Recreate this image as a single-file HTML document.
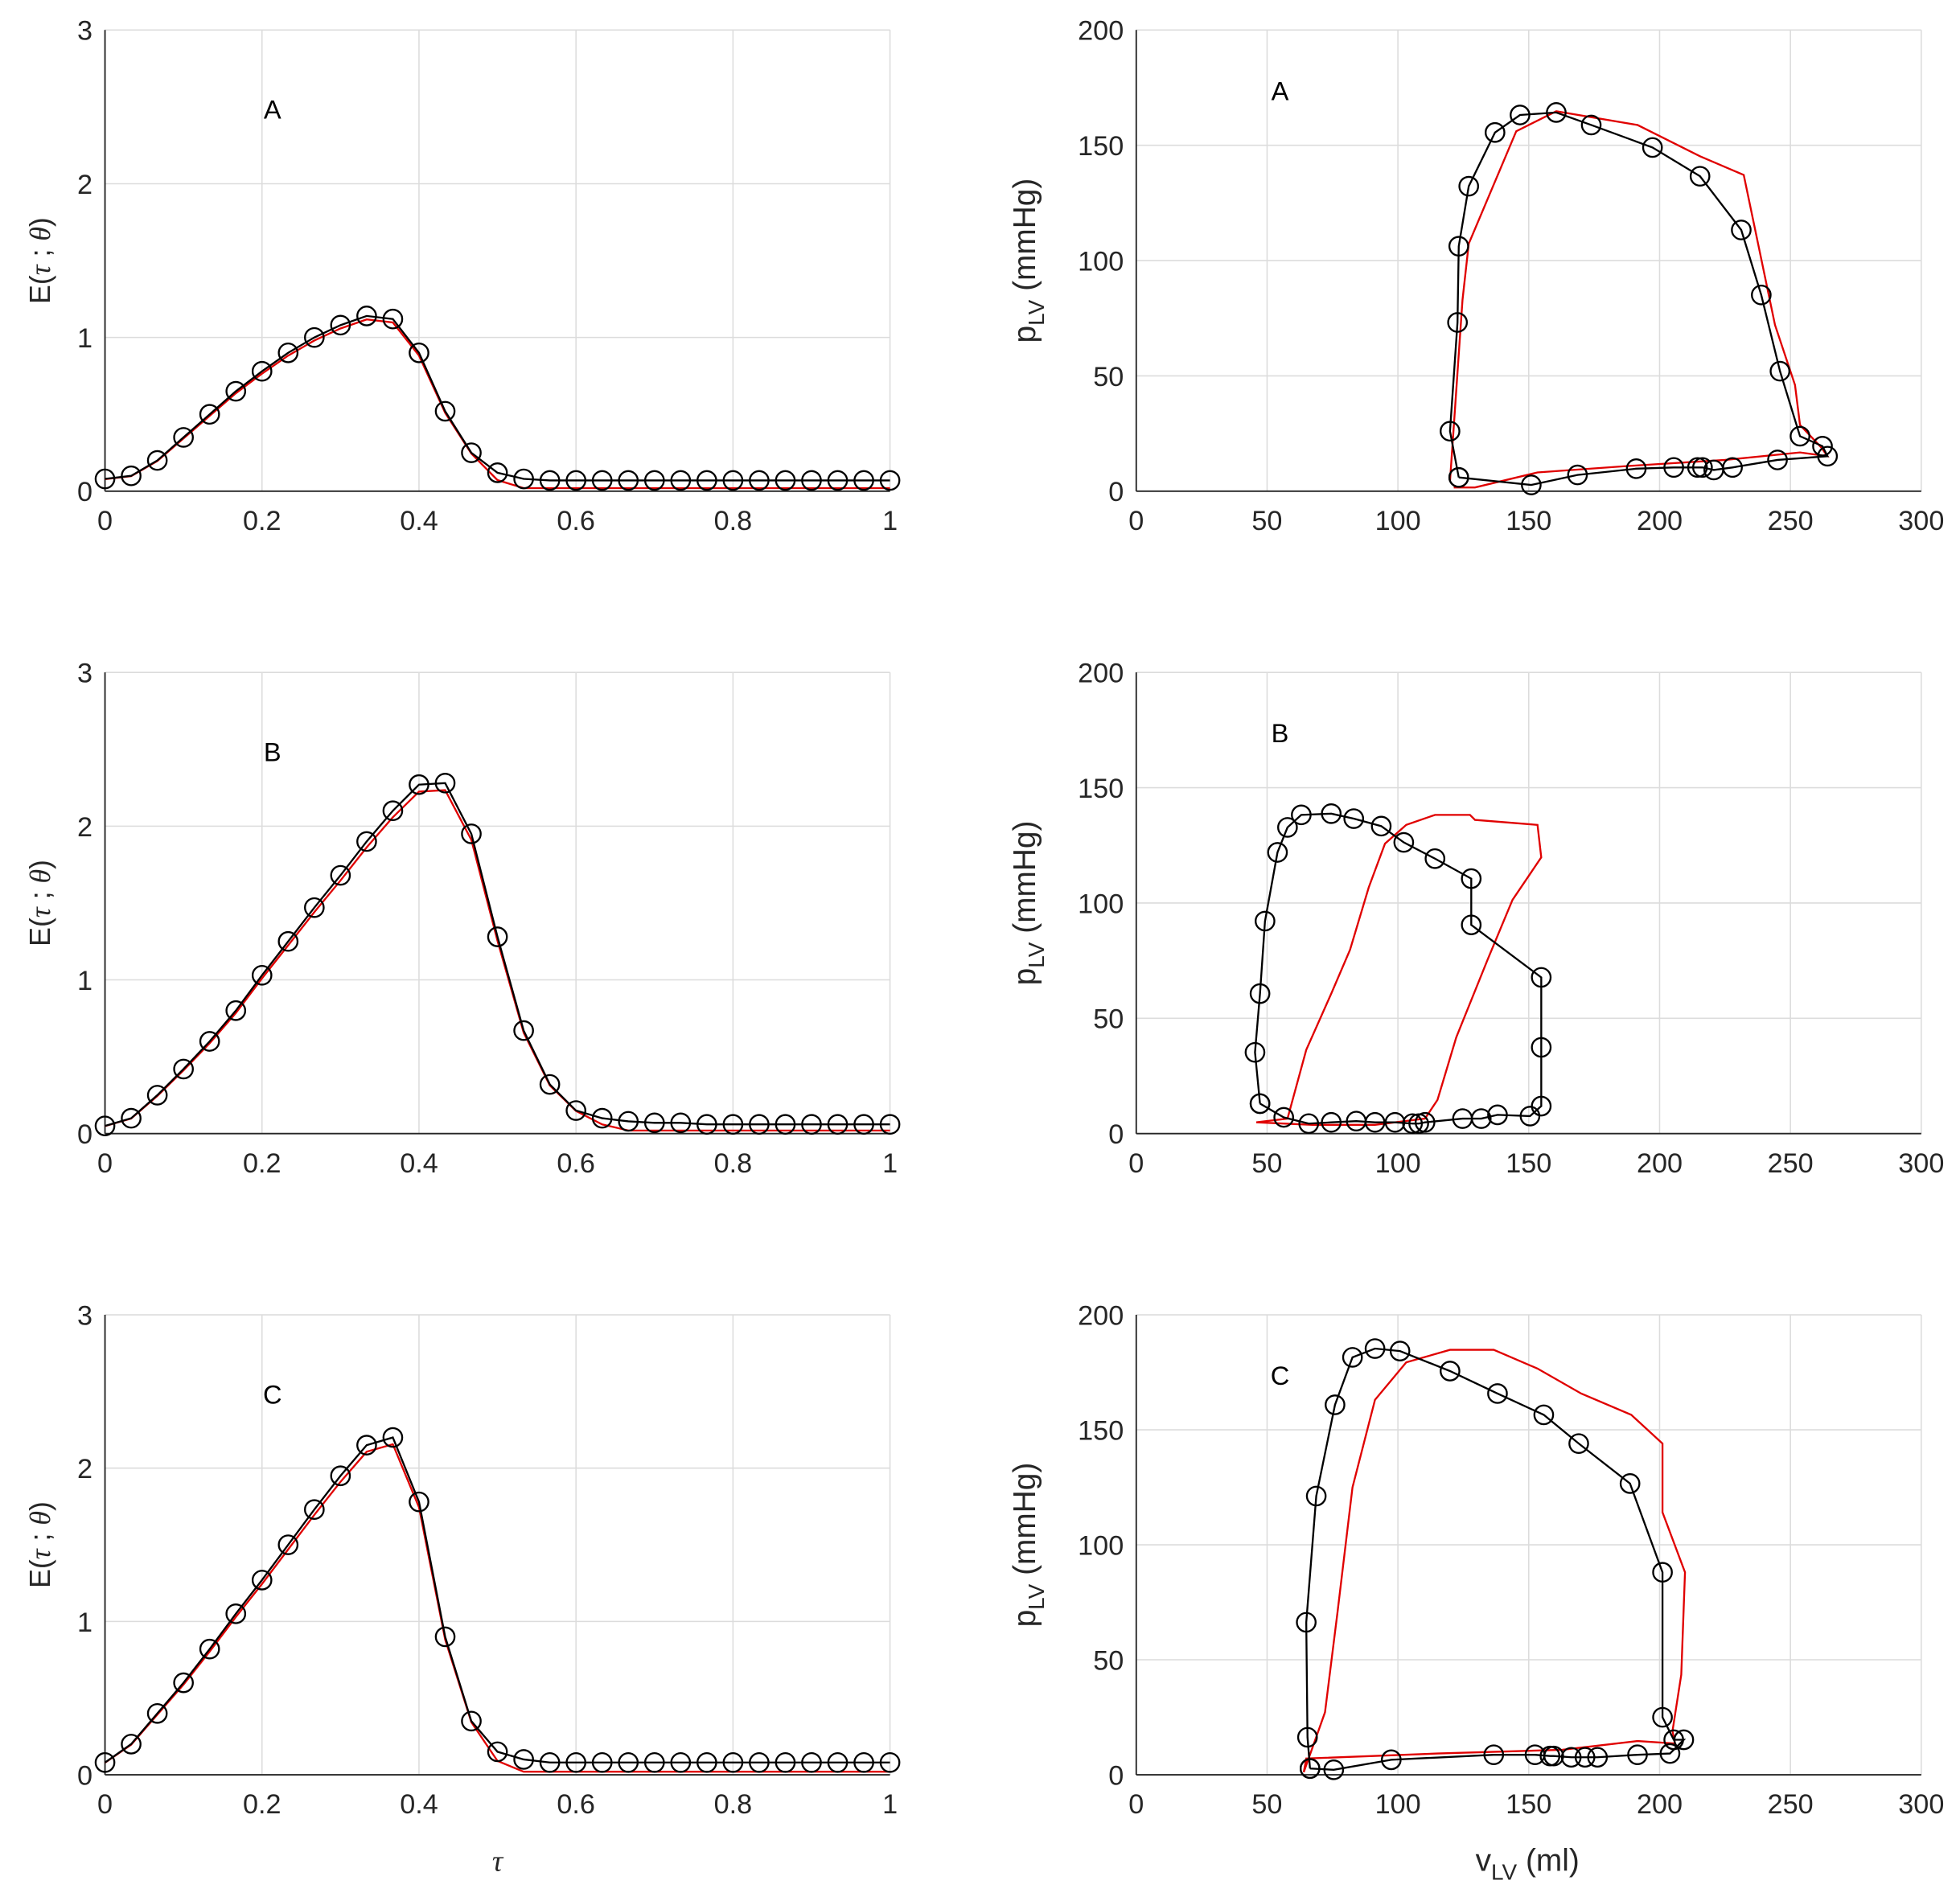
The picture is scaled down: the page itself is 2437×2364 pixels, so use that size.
<!DOCTYPE html>
<html><head><meta charset="utf-8"><style>html,body{margin:0;padding:0;background:#fff}svg{display:block}</style></head>
<body>
<svg id="s" xmlns="http://www.w3.org/2000/svg" width="2437" height="2364" viewBox="0 0 1568 1521" preserveAspectRatio="none" font-family="Liberation Sans, DejaVu Sans, sans-serif"></svg>
<script>
const S=document.getElementById('s');let h='';
const L={x0:84,x1:712},R={x0:909,x1:1537};
const rows=[{t:24,b:393},{t:538,b:907},{t:1052,b:1420}];
function axes(x0,x1,t,b,xt,yt){
 xt.forEach((v,i)=>{const x=x0+(x1-x0)*i/(xt.length-1);
  h+=`<line x1="${x}" y1="${t}" x2="${x}" y2="${b}" stroke="#dcdcdc" stroke-width="1"/>`;
  h+=`<text x="${x}" y="${b+31}" font-size="22" text-anchor="middle" fill="#262626">${v}</text>`;});
 yt.forEach((v,i)=>{const y=b-(b-t)*i/(yt.length-1);
  h+=`<line x1="${x0}" y1="${y}" x2="${x1}" y2="${y}" stroke="#dcdcdc" stroke-width="1"/>`;
  h+=`<text x="${x0-10}" y="${y+8}" font-size="22" text-anchor="end" fill="#262626">${v}</text>`;});
 h+=`<line x1="${x0}" y1="${t}" x2="${x0}" y2="${b}" stroke="#262626" stroke-width="1.2"/>`;
 h+=`<line x1="${x0}" y1="${b}" x2="${x1}" y2="${b}" stroke="#262626" stroke-width="1.2"/>`;
}
function poly(pts,col,mk){h+=`<polyline points="${pts.map(p=>p.join(',')).join(' ')}" fill="none" stroke="${col}" stroke-width="1.5"/>`;
 if(mk)pts.forEach(p=>h+=`<circle cx="${p[0]}" cy="${p[1]}" r="7.5" fill="none" stroke="#000" stroke-width="1.5"/>`);}
const E=[
[0.08,0.1,0.2,0.35,0.5,0.65,0.78,0.9,1.0,1.08,1.14,1.12,0.9,0.52,0.25,0.12,0.08,0.07,0.07,0.07,0.07,0.07,0.07,0.07,0.07,0.07,0.07,0.07,0.07,0.07,0.07],
[0.05,0.1,0.25,0.42,0.6,0.8,1.03,1.25,1.47,1.68,1.9,2.1,2.27,2.28,1.95,1.28,0.67,0.32,0.15,0.1,0.08,0.07,0.07,0.06,0.06,0.06,0.06,0.06,0.06,0.06,0.06],
[0.08,0.2,0.4,0.6,0.82,1.05,1.27,1.5,1.73,1.95,2.15,2.2,1.78,0.9,0.35,0.15,0.1,0.08,0.08,0.08,0.08,0.08,0.08,0.08,0.08,0.08,0.08,0.08,0.08,0.08,0.08]];
const cut=[16,20,16];
const labs=['A','B','C'];
rows.forEach((r,i)=>{
 axes(L.x0,L.x1,r.t,r.b,['0','0.2','0.4','0.6','0.8','1'],['0','1','2','3']);
 axes(R.x0,R.x1,r.t,r.b,['0','50','100','150','200','250','300'],['0','50','100','150','200']);
 const k=(r.b-r.t)/3;
 const red=E[i].map((v,j)=>[L.x0+(L.x1-L.x0)*j/30,r.b-k*(j>=cut[i]?0.02:(j==cut[i]-1?v*0.6:v*0.98))]);
 poly(red,'#e00000',false);
 poly(E[i].map((v,j)=>[L.x0+(L.x1-L.x0)*j/30,r.b-k*v]),'#000',true);
 h+=`<text x="218" y="${r.t+71}" font-size="21" text-anchor="middle">${labs[i]}</text>`;
 h+=`<text x="1024" y="${r.t+56}" font-size="21" text-anchor="middle">${labs[i]}</text>`;
 const cy=(r.t+r.b)/2;
 h+=`<text transform="translate(40,${cy}) rotate(-90)" font-size="23" text-anchor="middle" fill="#262626">E(<tspan font-style="italic" font-family="Liberation Serif, serif">τ</tspan> ; <tspan font-style="italic" font-family="Liberation Serif, serif">θ</tspan>)</text>`;
 h+=`<text transform="translate(828,${cy}) rotate(-90)" font-size="25" text-anchor="middle" fill="#262626">p<tspan font-size="18" dy="7">LV</tspan><tspan dy="-7"> (mmHg)</tspan></text>`;
});
h+=`<text x="398" y="1497" font-size="24" text-anchor="middle" font-style="italic" font-family="Liberation Serif, serif" fill="#262626">τ</text>`;
h+=`<text x="1222" y="1497" font-size="25" text-anchor="middle" fill="#262626">v<tspan font-size="18" dy="7">LV</tspan><tspan dy="-7"> (ml)</tspan></text>`;
poly([[1160,385],[1170,240],[1175,195],[1213,105],[1245,89],[1310,100],[1360,125],[1395,140],[1420,260],[1436,308],[1440,340],[1457,358],[1462,365],[1440,362],[1380,368],[1300,373],[1230,378],[1180,390],[1163,390]],'#e00000');
poly([[1167,382],[1160,345],[1166,258],[1167,197],[1175,149],[1196,106],[1216,92],[1245,90],[1273,100],[1322,118],[1360,141],[1393,184],[1409,236],[1424,297],[1440,349],[1458,357],[1462,365],[1422,368],[1386,374],[1371,376],[1362,374],[1358,374],[1339,374],[1309,375],[1262,380],[1225,388],[1167,382]],'#000',true);
poly([[1005,898],[1030,895],[1045,840],[1065,795],[1080,760],[1095,710],[1108,675],[1125,660],[1148,652],[1176,652],[1180,656],[1230,660],[1233,686],[1210,720],[1190,768],[1165,830],[1150,880],[1140,895],[1100,900],[1050,900],[1005,898]],'#e00000');
poly([[1008,883],[1004,842],[1008,795],[1012,737],[1022,682],[1030,662],[1041,652],[1065,651],[1083,655],[1105,661],[1123,674],[1148,687],[1177,703],[1177,740],[1233,782],[1233,838],[1233,885],[1224,893],[1198,892],[1185,895],[1170,895],[1140,898],[1135,899],[1130,899],[1116,898],[1100,898],[1085,897],[1065,898],[1047,899],[1027,894],[1008,883]],'#000',true);
poly([[1043,1418],[1060,1370],[1070,1290],[1082,1190],[1100,1120],[1125,1090],[1160,1080],[1195,1080],[1230,1095],[1265,1115],[1305,1132],[1330,1155],[1330,1210],[1348,1258],[1345,1340],[1338,1385],[1340,1395],[1310,1393],[1250,1400],[1150,1403],[1045,1407],[1043,1418]],'#e00000');
poly([[1048,1415],[1046,1390],[1045,1298],[1053,1197],[1068,1124],[1082,1086],[1100,1079],[1120,1081],[1160,1097],[1198,1115],[1235,1132],[1263,1155],[1304,1187],[1330,1258],[1330,1374],[1339,1392],[1347,1392],[1336,1403],[1310,1404],[1278,1406],[1268,1406],[1257,1406],[1243,1405],[1240,1405],[1228,1404],[1195,1404],[1113,1408],[1067,1416],[1048,1415]],'#000',true);
S.innerHTML=h;
</script>
</body></html>
